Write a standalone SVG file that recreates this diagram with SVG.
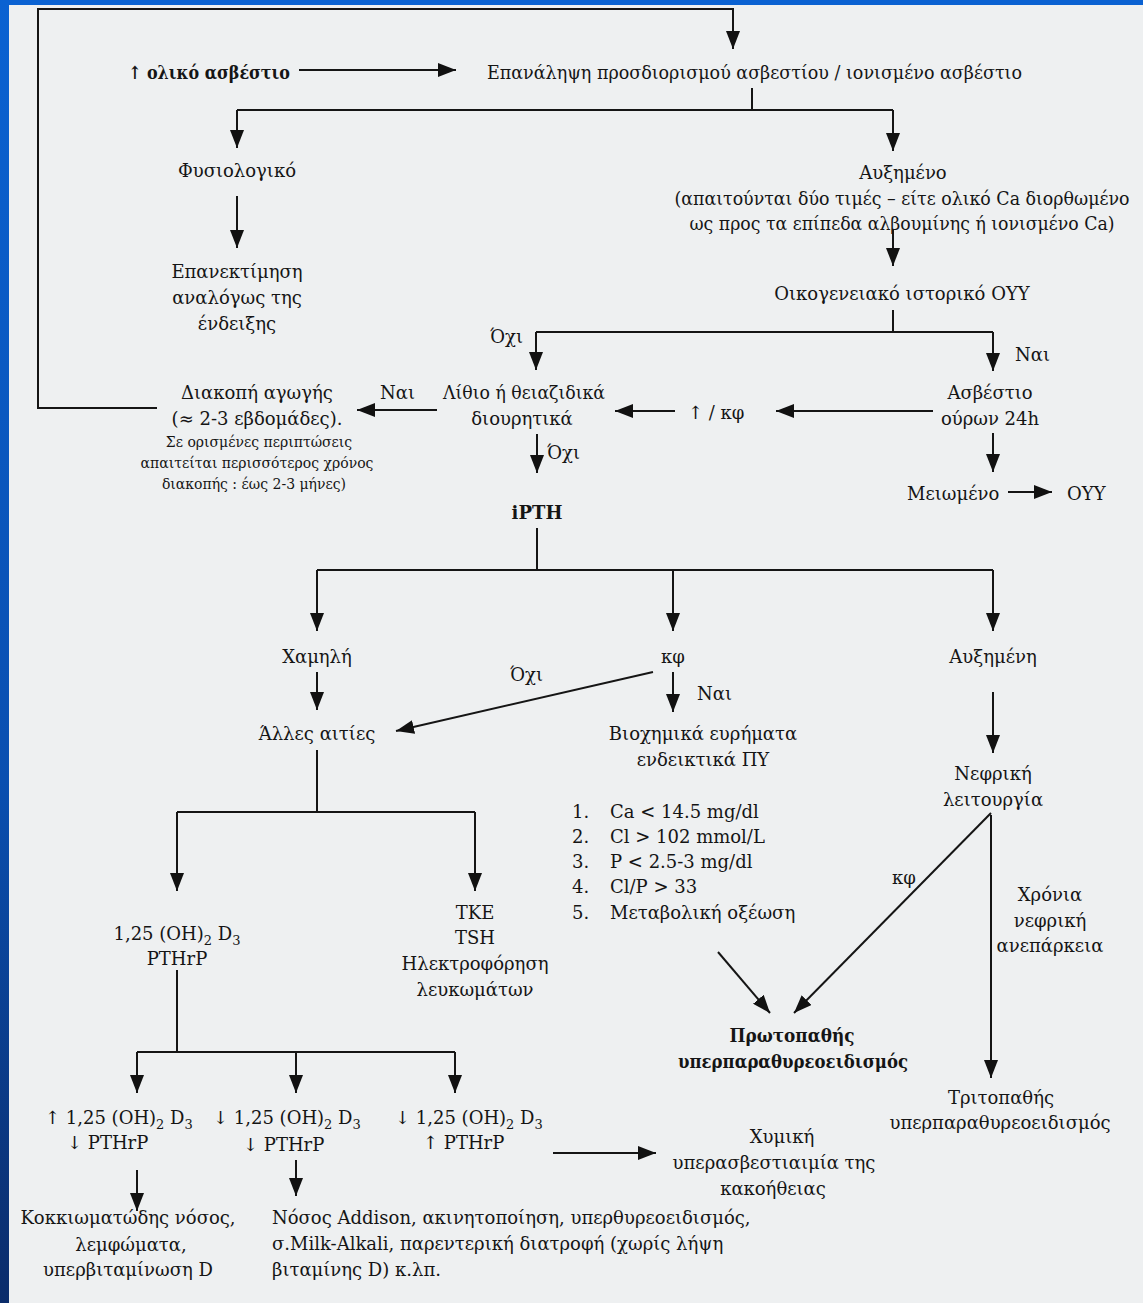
<svg xmlns="http://www.w3.org/2000/svg" width="1143" height="1303" viewBox="0 0 1143 1303">
<defs>
<linearGradient id="blueside" x1="0" y1="0" x2="0" y2="1">
<stop offset="0" stop-color="#0a62d2"/>
<stop offset="0.6" stop-color="#0a4fb0"/>
<stop offset="1" stop-color="#0b2c6a"/>
</linearGradient>
<marker id="ah" markerUnits="userSpaceOnUse" markerWidth="19" markerHeight="14" refX="18" refY="7" orient="auto">
<path d="M0,0 L18,7 L0,14 z" fill="#111"/>
</marker>
<style>
text{font-family:"DejaVu Serif","Liberation Serif",serif;font-size:18px;fill:#151515}
.b{font-weight:bold}
.m{text-anchor:middle}
.s{font-size:14px}
.sub{font-size:13px}
.c line,.c polyline,.c path{stroke:#151515;stroke-width:2;fill:none}
.a{marker-end:url(#ah)}
</style>
</defs>
<rect x="0" y="0" width="1143" height="1303" fill="#eef0f1"/>
<rect x="0" y="0" width="1143" height="5" fill="#0a62d2"/>
<rect x="0" y="0" width="9" height="1303" fill="url(#blueside)"/>

<g id="connectors" class="c">
<polyline points="157,408 38,408 38,9 733,9 733,49" class="a"/>
<line x1="299" y1="70" x2="456" y2="70" class="a"/>
<polyline points="752,88 752,110"/>
<line x1="237" y1="110" x2="893" y2="110"/>
<line x1="237" y1="110" x2="237" y2="148" class="a"/>
<line x1="893" y1="110" x2="893" y2="151" class="a"/>
<line x1="237" y1="196" x2="237" y2="248" class="a"/>
<line x1="893" y1="230" x2="893" y2="266" class="a"/>
<line x1="893" y1="310" x2="893" y2="332"/>
<line x1="536" y1="332" x2="993" y2="332"/>
<line x1="536" y1="332" x2="536" y2="370" class="a"/>
<line x1="993" y1="332" x2="993" y2="371" class="a"/>
<line x1="993" y1="433" x2="993" y2="472" class="a"/>
<line x1="1008" y1="492" x2="1052" y2="492" class="a"/>
<line x1="933" y1="411" x2="776" y2="411" class="a"/>
<line x1="675" y1="411" x2="615" y2="411" class="a"/>
<line x1="437" y1="410" x2="357" y2="410" class="a"/>
<line x1="537" y1="434" x2="537" y2="473" class="a"/>
<line x1="537" y1="528" x2="537" y2="570"/>
<line x1="317" y1="570" x2="993" y2="570"/>
<line x1="317" y1="570" x2="317" y2="631" class="a"/>
<line x1="673" y1="570" x2="673" y2="631" class="a"/>
<line x1="993" y1="570" x2="993" y2="631" class="a"/>
<line x1="317" y1="672" x2="317" y2="710" class="a"/>
<line x1="653" y1="672" x2="396" y2="731" class="a"/>
<line x1="673" y1="672" x2="673" y2="712" class="a"/>
<line x1="993" y1="692" x2="993" y2="753" class="a"/>
<line x1="317" y1="750" x2="317" y2="812"/>
<line x1="177" y1="812" x2="475" y2="812"/>
<line x1="177" y1="812" x2="177" y2="891" class="a"/>
<line x1="475" y1="812" x2="475" y2="891" class="a"/>
<line x1="991" y1="815" x2="991" y2="1078" class="a"/>
<line x1="991" y1="813" x2="794" y2="1013" class="a"/>
<line x1="718" y1="952" x2="770" y2="1013" class="a"/>
<line x1="177" y1="970" x2="177" y2="1052"/>
<line x1="137" y1="1052" x2="455" y2="1052"/>
<line x1="137" y1="1052" x2="137" y2="1093" class="a"/>
<line x1="296" y1="1052" x2="296" y2="1093" class="a"/>
<line x1="455" y1="1052" x2="455" y2="1093" class="a"/>
<line x1="553" y1="1153" x2="656" y2="1153" class="a"/>
<line x1="137" y1="1170" x2="137" y2="1211" class="a"/>
<line x1="296" y1="1160" x2="296" y2="1196" class="a"/>
</g>

<g id="n-total-ca"><text x="128" y="79" class="b" textLength="162" lengthAdjust="spacingAndGlyphs">↑ ολικό ασβέστιο</text></g>
<g id="n-repeat"><text x="487" y="79" textLength="535" lengthAdjust="spacingAndGlyphs">Επανάληψη προσδιορισμού ασβεστίου / ιονισμένο ασβέστιο</text></g>
<g id="n-normal"><text x="237" y="177" class="m">Φυσιολογικό</text></g>
<g id="n-reassess">
<text x="237" y="278" class="m">Επανεκτίμηση</text>
<text x="237" y="304" class="m">αναλόγως της</text>
<text x="237" y="330" class="m">ένδειξης</text>
</g>
<g id="n-increased">
<text x="903" y="179" class="m">Αυξημένο</text>
<text x="902" y="205" class="m" textLength="455" lengthAdjust="spacingAndGlyphs">(απαιτούνται δύο τιμές – είτε ολικό Ca διορθωμένο</text>
<text x="902" y="230" class="m" textLength="425" lengthAdjust="spacingAndGlyphs">ως προς τα επίπεδα αλβουμίνης ή ιονισμένο Ca)</text>
</g>
<g id="n-family"><text x="902" y="300" class="m">Οικογενειακό ιστορικό ΟΥΥ</text></g>
<g id="l-no1"><text x="490" y="343">Όχι</text></g>
<g id="l-yes1"><text x="1015" y="361">Ναι</text></g>
<g id="n-urine">
<text x="990" y="399" class="m">Ασβέστιο</text>
<text x="990" y="425" class="m">ούρων 24h</text>
</g>
<g id="n-decreased"><text x="907" y="500">Μειωμένο</text></g>
<g id="n-fhh"><text x="1067" y="500">ΟΥΥ</text></g>
<g id="n-up-kf"><text x="688" y="419">↑ / κφ</text></g>
<g id="n-lithium">
<text x="524" y="399" class="m" textLength="162" lengthAdjust="spacingAndGlyphs">Λίθιο ή θειαζιδικά</text>
<text x="522" y="425" class="m">διουρητικά</text>
</g>
<g id="l-yes2"><text x="380" y="399">Ναι</text></g>
<g id="n-stop">
<text x="257" y="399" class="m">Διακοπή αγωγής</text>
<text x="257" y="425" class="m">(≈ 2-3 εβδομάδες).</text>
<text x="259" y="447" class="m s">Σε ορισμένες περιπτώσεις</text>
<text x="257" y="468" class="m s">απαιτείται περισσότερος χρόνος</text>
<text x="254" y="489" class="m s">διακοπής : έως 2-3 μήνες)</text>
</g>
<g id="l-no2"><text x="547" y="459">Όχι</text></g>
<g id="n-ipth"><text x="537" y="519" class="m b">iPTH</text></g>
<g id="n-low"><text x="317" y="663" class="m">Χαμηλή</text></g>
<g id="n-kf"><text x="673" y="663" class="m">κφ</text></g>
<g id="n-high"><text x="993" y="663" class="m">Αυξημένη</text></g>
<g id="l-no3"><text x="510" y="681">Όχι</text></g>
<g id="l-yes3"><text x="697" y="700">Ναι</text></g>
<g id="n-other"><text x="317" y="740" class="m">Άλλες αιτίες</text></g>
<g id="n-biochem">
<text x="703" y="740" class="m">Βιοχημικά ευρήματα</text>
<text x="703" y="766" class="m">ενδεικτικά ΠΥ</text>
<text x="572" y="818">1.</text><text x="610" y="818">Ca &lt; 14.5 mg/dl</text>
<text x="572" y="843">2.</text><text x="610" y="843">Cl &gt; 102 mmol/L</text>
<text x="572" y="868">3.</text><text x="610" y="868">P &lt; 2.5-3 mg/dl</text>
<text x="572" y="893">4.</text><text x="610" y="893">Cl/P &gt; 33</text>
<text x="572" y="919">5.</text><text x="610" y="919">Μεταβολική οξέωση</text>
</g>
<g id="n-renal">
<text x="993" y="780" class="m">Νεφρική</text>
<text x="993" y="806" class="m">λειτουργία</text>
</g>
<g id="l-kf2"><text x="892" y="884">κφ</text></g>
<g id="n-ckd">
<text x="1050" y="901" class="m">Χρόνια</text>
<text x="1050" y="927" class="m">νεφρική</text>
<text x="1050" y="952" class="m">ανεπάρκεια</text>
</g>
<g id="n-vitd">
<text x="177" y="940" class="m">1,25 (OH)<tspan class="sub" dy="5">2</tspan><tspan dy="-5"> D</tspan><tspan class="sub" dy="5">3</tspan></text>
<text x="177" y="965" class="m">PTHrP</text>
</g>
<g id="n-tke">
<text x="475" y="919" class="m">TKE</text>
<text x="475" y="944" class="m">TSH</text>
<text x="475" y="970" class="m">Ηλεκτροφόρηση</text>
<text x="475" y="996" class="m">λευκωμάτων</text>
</g>
<g id="n-primary">
<text x="792" y="1042" class="m b" textLength="125" lengthAdjust="spacingAndGlyphs">Πρωτοπαθής</text>
<text x="793" y="1068" class="m b" textLength="230" lengthAdjust="spacingAndGlyphs">υπερπαραθυρεοειδισμός</text>
</g>
<g id="n-tertiary">
<text x="1001" y="1104" class="m">Τριτοπαθής</text>
<text x="1000" y="1129" class="m">υπερπαραθυρεοειδισμός</text>
</g>
<g id="n-col1">
<text x="45" y="1124">↑ 1,25 (OH)<tspan class="sub" dy="5">2</tspan><tspan dy="-5"> D</tspan><tspan class="sub" dy="5">3</tspan></text>
<text x="67" y="1149">↓ PTHrP</text>
</g>
<g id="n-col2">
<text x="213" y="1124">↓ 1,25 (OH)<tspan class="sub" dy="5">2</tspan><tspan dy="-5"> D</tspan><tspan class="sub" dy="5">3</tspan></text>
<text x="243" y="1151">↓ PTHrP</text>
</g>
<g id="n-col3">
<text x="395" y="1124">↓ 1,25 (OH)<tspan class="sub" dy="5">2</tspan><tspan dy="-5"> D</tspan><tspan class="sub" dy="5">3</tspan></text>
<text x="423" y="1149">↑ PTHrP</text>
</g>
<g id="n-humoral">
<text x="782" y="1143" class="m">Χυμική</text>
<text x="774" y="1169" class="m">υπερασβεστιαιμία της</text>
<text x="773" y="1195" class="m">κακοήθειας</text>
</g>
<g id="n-granulomatous">
<text x="128" y="1224" class="m">Κοκκιωματώδης νόσος,</text>
<text x="131" y="1251" class="m">λεμφώματα,</text>
<text x="128" y="1276" class="m">υπερβιταμίνωση D</text>
</g>
<g id="n-addison">
<text x="272" y="1224">Νόσος Addison, ακινητοποίηση, υπερθυρεοειδισμός,</text>
<text x="272" y="1250">σ.Milk-Alkali, παρεντερική διατροφή (χωρίς λήψη</text>
<text x="272" y="1276">βιταμίνης D) κ.λπ.</text>
</g>
</svg>
